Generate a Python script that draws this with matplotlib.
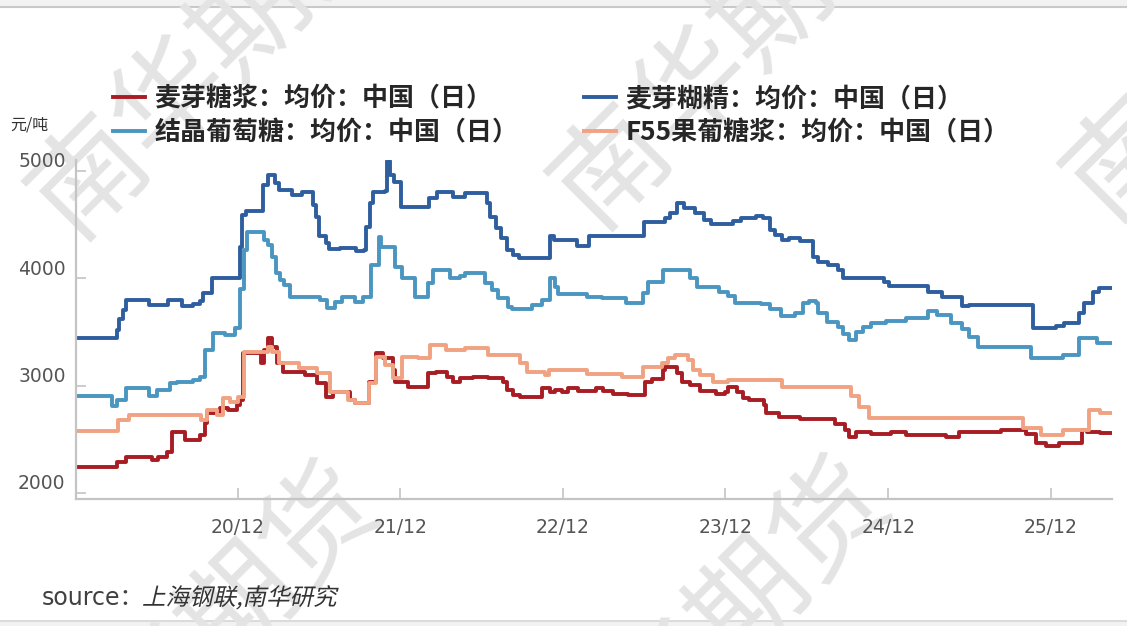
import pandas as pd
import matplotlib
matplotlib.use("Agg")
import matplotlib.pyplot as plt
import matplotlib.dates as mdates
from matplotlib.transforms import ScaledTranslation, Affine2D, IdentityTransform
from matplotlib.textpath import TextPath
from matplotlib.patches import PathPatch, Rectangle
from matplotlib.font_manager import FontProperties
from matplotlib.lines import Line2D

plt.rcParams['font.family'] = ['DejaVu Sans', 'Noto Sans CJK SC']

# 麦芽糖浆 (daily average price, yuan/ton), step changes
maltose_dates = ['2019-12-05', '2020-03-06', '2020-03-26', '2020-05-22', '2020-06-05', '2020-06-25',
                 '2020-07-06', '2020-08-05', '2020-09-08', '2020-09-19', '2020-09-23', '2020-10-22',
                 '2020-11-10', '2020-11-30', '2020-12-07', '2020-12-13', '2021-01-23', '2021-01-30',
                 '2021-02-08', '2021-02-17', '2021-02-28', '2021-03-12', '2021-05-01', '2021-05-29',
                 '2021-06-18', '2021-07-02', '2021-08-10', '2021-08-21', '2021-09-21', '2021-10-08',
                 '2021-10-24', '2021-11-14', '2021-11-20', '2021-12-19', '2022-02-01', '2022-02-19',
                 '2022-03-15', '2022-03-29', '2022-04-14', '2022-05-13', '2022-06-16', '2022-07-20',
                 '2022-07-28', '2022-08-12', '2022-08-27', '2022-10-16', '2022-11-03', '2022-11-14',
                 '2022-11-30', '2022-12-12', '2023-01-05', '2023-02-13', '2023-03-01', '2023-03-23',
                 '2023-04-27', '2023-06-04', '2023-06-19', '2023-07-14', '2023-07-18', '2023-08-15',
                 '2023-08-26', '2023-09-13', '2023-10-06', '2023-11-09', '2023-12-01', '2023-12-07',
                 '2023-12-28', '2024-01-09', '2024-01-22', '2024-02-26', '2024-03-02', '2024-03-30',
                 '2024-05-17', '2024-08-04', '2024-08-25', '2024-09-03', '2024-09-19', '2024-10-23',
                 '2024-12-07', '2025-01-10', '2025-04-09', '2025-05-08', '2025-08-10', '2025-10-06',
                 '2025-10-28', '2025-11-20', '2025-12-19', '2026-02-08', '2026-02-21', '2026-03-22',
                 '2026-04-16']
maltose_vals = [2245, 2290, 2335, 2310, 2335, 2380,
                2570, 2495, 2540, 2650, 2745, 2790,
                2770, 2820, 2865, 3305, 3210, 3330,
                3445, 3360, 3210, 3130, 3100, 3025,
                2895, 2940, 2865, 2840, 3035, 3305,
                3260, 3145, 3035, 2990, 3120, 3130,
                3080, 3035, 3070, 3080, 3070, 3035,
                2960, 2915, 2895, 2980, 2940, 2960,
                2940, 2980, 2950, 2980, 2950, 2925,
                2915, 3035, 3060, 3145, 3175, 3120,
                3035, 3005, 2950, 2925, 2940, 2990,
                2940, 2885, 2865, 2820, 2745, 2710,
                2690, 2645, 2585, 2520, 2570, 2550,
                2570, 2540, 2520, 2570, 2585, 2550,
                2465, 2440, 2465, 2585, 2570, 2560,
                2560]

# 麦芽糊精
dextrin_dates = ['2019-12-05', '2020-03-04', '2020-03-10', '2020-03-19', '2020-03-26', '2020-05-17',
                 '2020-06-27', '2020-07-28', '2020-08-23', '2020-09-08', '2020-09-15', '2020-10-05',
                 '2020-12-07', '2020-12-11', '2020-12-20', '2021-01-26', '2021-02-06', '2021-02-22',
                 '2021-03-03', '2021-04-02', '2021-04-24', '2021-05-19', '2021-05-26', '2021-06-02',
                 '2021-06-18', '2021-06-25', '2021-07-18', '2021-08-24', '2021-09-11', '2021-09-16',
                 '2021-09-23', '2021-10-01', '2021-10-28', '2021-11-02', '2021-11-09', '2021-11-18',
                 '2021-12-03', '2022-02-03', '2022-02-21', '2022-03-29', '2022-04-25', '2022-06-14',
                 '2022-06-21', '2022-07-04', '2022-07-15', '2022-07-28', '2022-08-12', '2022-08-25',
                 '2022-11-03', '2022-11-12', '2023-01-03', '2023-01-28', '2023-06-01', '2023-07-18',
                 '2023-07-29', '2023-08-15', '2023-08-30', '2023-09-23', '2023-10-15', '2023-10-30',
                 '2023-12-19', '2024-01-04', '2024-02-07', '2024-02-23', '2024-03-11', '2024-03-22',
                 '2024-04-07', '2024-04-21', '2024-05-17', '2024-06-14', '2024-06-27', '2024-07-19',
                 '2024-08-09', '2024-08-22', '2024-11-21', '2024-12-02', '2025-02-28', '2025-04-01',
                 '2025-05-16', '2025-06-01', '2025-10-21', '2025-12-12', '2025-12-30', '2026-02-03',
                 '2026-02-14', '2026-03-06', '2026-03-20', '2026-04-16']
dextrin_vals = [3440, 3520, 3620, 3700, 3800, 3750,
                3800, 3740, 3760, 3790, 3860, 4000,
                4290, 4590, 4630, 4870, 4960, 4890,
                4820, 4780, 4800, 4680, 4570, 4390,
                4330, 4270, 4280, 4250, 4260, 4480,
                4700, 4800, 4810, 5090, 4960, 4900,
                4665, 4750, 4805, 4760, 4790, 4700,
                4570, 4470, 4380, 4265, 4220, 4190,
                4395, 4360, 4300, 4395, 4525, 4560,
                4610, 4700, 4655, 4610, 4545, 4510,
                4530, 4565, 4580, 4560, 4450, 4400,
                4360, 4375, 4350, 4200, 4155, 4125,
                4080, 4005, 3965, 3930, 3875, 3830,
                3740, 3750, 3540, 3560, 3585, 3680,
                3770, 3875, 3910, 3910]

# 结晶葡萄糖
glucose_dates = ['2019-12-05', '2020-02-23', '2020-03-06', '2020-03-26', '2020-05-17', '2020-06-02',
                 '2020-07-01', '2020-07-17', '2020-08-23', '2020-09-08', '2020-09-19', '2020-10-07',
                 '2020-11-03', '2020-11-25', '2020-12-07', '2020-12-15', '2020-12-22', '2021-01-30',
                 '2021-02-08', '2021-02-17', '2021-02-24', '2021-03-05', '2021-03-16', '2021-03-28',
                 '2021-06-04', '2021-06-20', '2021-07-07', '2021-07-23', '2021-08-21', '2021-09-09',
                 '2021-09-26', '2021-10-14', '2021-10-19', '2021-11-20', '2021-12-05', '2022-01-04',
                 '2022-02-01', '2022-02-12', '2022-03-22', '2022-04-14', '2022-04-25', '2022-06-09',
                 '2022-06-25', '2022-07-08', '2022-07-31', '2022-08-09', '2022-09-23', '2022-10-16',
                 '2022-11-03', '2022-11-14', '2022-11-21', '2023-01-25', '2023-02-28', '2023-04-21',
                 '2023-05-31', '2023-06-11', '2023-07-14', '2023-09-13', '2023-09-29', '2023-11-16',
                 '2023-12-07', '2023-12-23', '2024-02-18', '2024-03-11', '2024-04-03', '2024-05-06',
                 '2024-05-24', '2024-06-05', '2024-06-21', '2024-06-25', '2024-07-17', '2024-08-09',
                 '2024-08-22', '2024-09-03', '2024-09-19', '2024-10-05', '2024-10-23', '2024-11-26',
                 '2025-01-10', '2025-02-28', '2025-03-21', '2025-04-20', '2025-05-16', '2025-06-01',
                 '2025-06-21', '2025-10-17', '2025-12-28', '2026-02-03', '2026-03-15', '2026-04-16']
glucose_vals = [2900, 2810, 2865, 2980, 2900, 2960,
                3025, 3035, 3055, 3080, 3335, 3490,
                3470, 3540, 3900, 4265, 4430, 4360,
                4310, 4200, 4050, 3985, 3940, 3830,
                3800, 3725, 3780, 3830, 3780, 3830,
                4125, 4385, 4290, 4105, 4005, 3830,
                3960, 4080, 4000, 4020, 4050, 3960,
                3890, 3820, 3735, 3715, 3750, 3800,
                4005, 3920, 3855, 3830, 3815, 3770,
                3865, 3965, 4080, 4005, 3920, 3875,
                3835, 3770, 3760, 3715, 3650, 3680,
                3770, 3790, 3770, 3680, 3595, 3550,
                3480, 3425, 3500, 3550, 3585, 3605,
                3630, 3695, 3660, 3585, 3530, 3450,
                3360, 3260, 3290, 3440, 3400, 3400]

# F55果葡糖浆
hfcs_dates = ['2019-12-05', '2020-03-08', '2020-04-01', '2020-09-10', '2020-09-23', '2020-10-15',
              '2020-10-29', '2020-11-14', '2020-12-02', '2020-12-15', '2021-02-06', '2021-02-15',
              '2021-03-03', '2021-04-17', '2021-05-29', '2021-06-27', '2021-08-06', '2021-08-21',
              '2021-09-21', '2021-10-08', '2021-10-28', '2021-11-14', '2021-12-05', '2022-01-11',
              '2022-02-05', '2022-03-13', '2022-04-25', '2022-06-16', '2022-08-27', '2022-09-12',
              '2022-10-21', '2022-10-30', '2023-01-25', '2023-04-14', '2023-05-31', '2023-07-12',
              '2023-07-25', '2023-08-10', '2023-09-09', '2023-09-20', '2023-10-06', '2023-11-04',
              '2023-12-07', '2024-04-07', '2024-09-07', '2024-09-25', '2024-10-18', '2025-09-29',
              '2025-11-09', '2025-12-28', '2026-02-25', '2026-03-22', '2026-04-16']
hfcs_vals = [2580, 2680, 2725, 2680, 2775, 2725,
             2885, 2850, 2895, 3315, 3360, 3315,
             3210, 3165, 3120, 2940, 2865, 2840,
             3025, 3270, 3190, 3070, 3270, 3260,
             3380, 3335, 3350, 3285, 3210, 3130,
             3100, 3145, 3110, 3080, 3175, 3210,
             3260, 3285, 3240, 3145, 3100, 3035,
             3055, 2985, 2900, 2800, 2700, 2610,
             2540, 2585, 2775, 2745, 2745]

series_labels = ['麦芽糖浆：均价：中国（日）', '麦芽糊精：均价：中国（日）',
                 '结晶葡萄糖：均价：中国（日）', 'F55果葡糖浆：均价：中国（日）']
series_colors = ['#a81c24', '#2f5e9e', '#4b96c1', '#f0a282']
year_ticks = ['2020-12-01', '2021-12-01', '2022-12-01', '2023-12-01', '2024-12-01', '2025-12-01']
watermark = '南华期货'

W, H = 1127, 626
fig = plt.figure(figsize=(W / 100, H / 100), dpi=100)
ax = fig.add_axes([76 / W, 1 - 499 / H, (1111.5 - 76) / W, (499 - 160) / H])
ax.patch.set_alpha(0)

# grey bands at the top and bottom edge
fig.add_artist(Rectangle((0, 1 - 6 / H), 1, 6 / H, transform=fig.transFigure,
                         facecolor='#f2f2f2', edgecolor='none', zorder=-3))
fig.add_artist(Line2D([0, 1], [1 - 6.5 / H] * 2, transform=fig.transFigure,
                      color='#c9c9c9', lw=1.5, zorder=-2))
fig.add_artist(Rectangle((0, 0), 1, 5 / H, transform=fig.transFigure,
                         facecolor='#f2f2f2', edgecolor='none', zorder=-3))
fig.add_artist(Line2D([0, 1], [5.5 / H] * 2, transform=fig.transFigure,
                      color='#d6d6d6', lw=1.2, zorder=-2))

# watermark, repeated diagonally
wm_centers = [(211, 57), (733, 47), (1246, 39), (200, 645), (710, 640)]
for cx, cy in wm_centers:
    fig.text(cx / W, 1 - cy / H, watermark, rotation=45, rotation_mode='anchor',
             ha='center', va='center', fontsize=82, color='#e4e4e4',
             family=['Noto Sans CJK SC'], weight='medium', zorder=-1)

series = [(maltose_dates, maltose_vals), (dextrin_dates, dextrin_vals),
          (glucose_dates, glucose_vals), (hfcs_dates, hfcs_vals)]
lines = []
for (d, v), c in zip(series, series_colors):
    ln, = ax.plot(pd.to_datetime(d), v, drawstyle='steps-post', color=c, lw=2.8)
    lines.append(ln)

ax.set_xlim(pd.Timestamp('2019-12-04'), pd.Timestamp('2026-04-16'))
ax.set_ylim(1944, 5102)
ax.set_yticks([2000, 3000, 4000, 5000])
ax.set_xticks(pd.to_datetime(year_ticks))
ax.xaxis.set_major_formatter(mdates.DateFormatter('%y/%m'))

for s in ['top', 'right']:
    ax.spines[s].set_visible(False)
for s in ['left', 'bottom']:
    ax.spines[s].set_color('#c4c4c4')
    ax.spines[s].set_linewidth(1.6)
ax.tick_params(axis='y', direction='in', length=7, width=1.2, color='#c4c4c4',
               labelsize=13.5, labelcolor='#555555', pad=7.5)
ax.tick_params(axis='x', direction='in', length=8, width=1.2, color='#c4c4c4',
               labelsize=13.5, labelcolor='#555555', pad=14)
for lab in ax.get_yticklabels():
    lab.set_transform(lab.get_transform() + ScaledTranslation(0, 0.11, fig.dpi_scale_trans))

# legend, two columns
order = [0, 2, 1, 3]
leg_font = FontProperties(family=['Noto Sans CJK SC'], weight='bold', size=18.7)
leg = fig.legend([lines[i] for i in order], [series_labels[i] for i in order],
                 ncol=2, loc='upper left', bbox_to_anchor=(113 / W, 1 - 85 / H),
                 frameon=False, borderpad=0, borderaxespad=0, prop=leg_font,
                 handlelength=1.23, handletextpad=0.38, columnspacing=2.5, labelspacing=0.28)
for t in leg.get_texts():
    t.set_color('#262626')

fig.text(10 / W, 1 - 125 / H, '元/吨', fontsize=11.5, color='#333333', va='center',
         family=['Noto Sans CJK SC'])

# source line, the Chinese part slanted
fig.text(42 / W, 21 / H, 'source：', fontsize=17, color='#404040', va='baseline')
src_path = TextPath((0, 0), '上海钢联,南华研究', size=23.5,
                    prop=FontProperties(family='Noto Sans CJK SC'))
src_tf = Affine2D().skew_deg(13, 0).translate(142, 21)
fig.add_artist(PathPatch(src_tf.transform_path(src_path), transform=IdentityTransform(),
                         facecolor='#333333', edgecolor='none'))

fig.savefig('out.png', dpi=100)
